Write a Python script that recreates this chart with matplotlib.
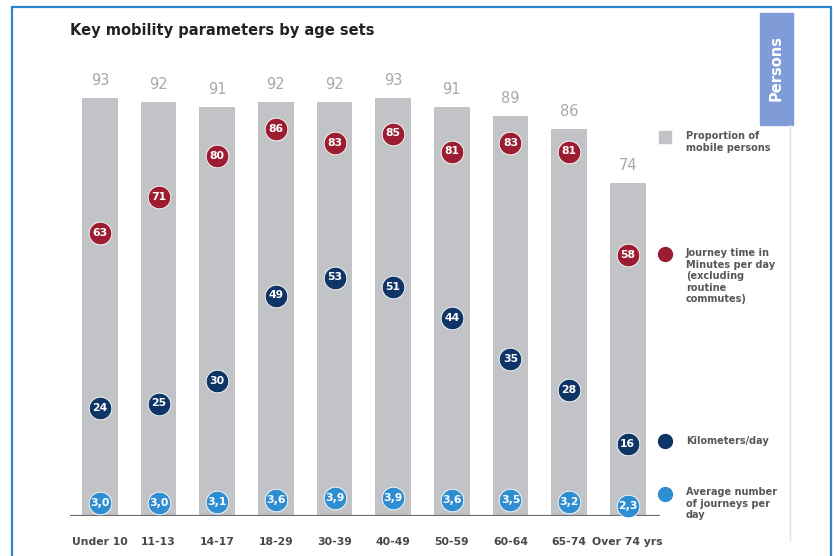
import matplotlib
matplotlib.use('Agg')
import matplotlib.pyplot as plt
from matplotlib.patches import Rectangle
from matplotlib.lines import Line2D

# data
age_sets = ['Under 10', '11-13', '14-17', '18-29', '30-39', '40-49', '50-59', '60-64', '65-74', 'Over 74 yrs']
mobile_share = [93, 92, 91, 92, 92, 93, 91, 89, 86, 74]
journey_minutes = [63, 71, 80, 86, 83, 85, 81, 83, 81, 58]
km_per_day = [24, 25, 30, 49, 53, 51, 44, 35, 28, 16]
journeys_per_day = [3.0, 3.0, 3.1, 3.6, 3.9, 3.9, 3.6, 3.5, 3.2, 2.3]

legend_labels = ['Proportion of\nmobile persons',
                 'Journey time in\nMinutes per day\n(excluding\nroutine\ncommutes)',
                 'Kilometers/day',
                 'Average number\nof journeys per\nday']

BAR = '#c1c3c6'
RED = '#9c1c31'
NAVY = '#0f3466'
LIGHT = '#2f8ed2'

W, H = 834, 556
fig = plt.figure(figsize=(W / 100, H / 100), dpi=100)


def fx(x):
    return x / W


def fy(y):
    return 1 - y / H


# outer frame
fig.patches.append(Rectangle((fx(12), fy(560)), fx(819), 553 / H, transform=fig.transFigure,
                             fill=False, edgecolor='#2f86c8', lw=1.6))

ax = fig.add_axes([fx(70), fy(516), fx(590), 450 / H])
x = list(range(len(age_sets)))
ax.bar(x, mobile_share, width=0.61, color=BAR, zorder=1)
for i, v in enumerate(mobile_share):
    ax.text(i, v + 2.2, str(v), ha='center', va='bottom', fontsize=10.5, color='#a8a8a8')

ax.axhline(0, color='#6f6f6f', lw=1.6, zorder=2)


def dots(vals, color, fmt):
    ax.scatter(x, vals, s=265, color=color, edgecolors='white', linewidths=0.6, zorder=3, clip_on=False)
    for i, v in enumerate(vals):
        ax.text(i, v, fmt(v), ha='center', va='center', fontsize=7.8, color='white',
                fontweight='bold', zorder=4)


dots(journey_minutes, RED, lambda v: str(v))
dots(km_per_day, NAVY, lambda v: str(v))
dots(journeys_per_day, LIGHT, lambda v: ('%.1f' % v).replace('.', ','))

ax.set_xlim(-0.51, 9.55)
ax.set_ylim(0, 100)
ax.set_xticks(x)
ax.set_xticklabels(age_sets, fontsize=7.8, color='#484848', fontweight='semibold')
ax.tick_params(axis='x', length=0, pad=15)
ax.set_yticks([])
for s in ax.spines.values():
    s.set_visible(False)

fig.text(fx(70), fy(31), 'Key mobility parameters by age sets', fontsize=10.5, fontweight='bold',
         color='#222222', va='center')

# legend on the right
fig.patches.append(Rectangle((fx(659), fy(143)), fx(12), 12 / H, transform=fig.transFigure,
                             color=BAR))
for yy, c in [(254, RED), (441, NAVY), (494, LIGHT)]:
    fig.lines.append(Line2D([fx(665)], [fy(yy)], marker='o', markersize=10, color=c,
                            transform=fig.transFigure))
text_pos = [(131, 'top'), (248, 'top'), (441, 'center'), (487, 'top')]
for (yy, va), lab in zip(text_pos, legend_labels):
    fig.text(fx(686), fy(yy), lab, fontsize=7, color='#575757', fontweight='bold',
             va=va, ha='left', linespacing=1.2)

# "Persons" tab and the thin divider under it
fig.patches.append(Rectangle((fx(760), fy(125)), fx(33), 112 / H, transform=fig.transFigure,
                             color='#7f9cd9'))
fig.text(fx(776.5), fy(68), 'Persons', rotation=90, color='white', fontsize=10.5, fontweight='bold',
         ha='center', va='center')
fig.lines.append(Line2D([fx(790), fx(790)], [fy(125), fy(540)], color='#e0e0e0', lw=1,
                        transform=fig.transFigure))

fig.savefig('out.png', dpi=100)
